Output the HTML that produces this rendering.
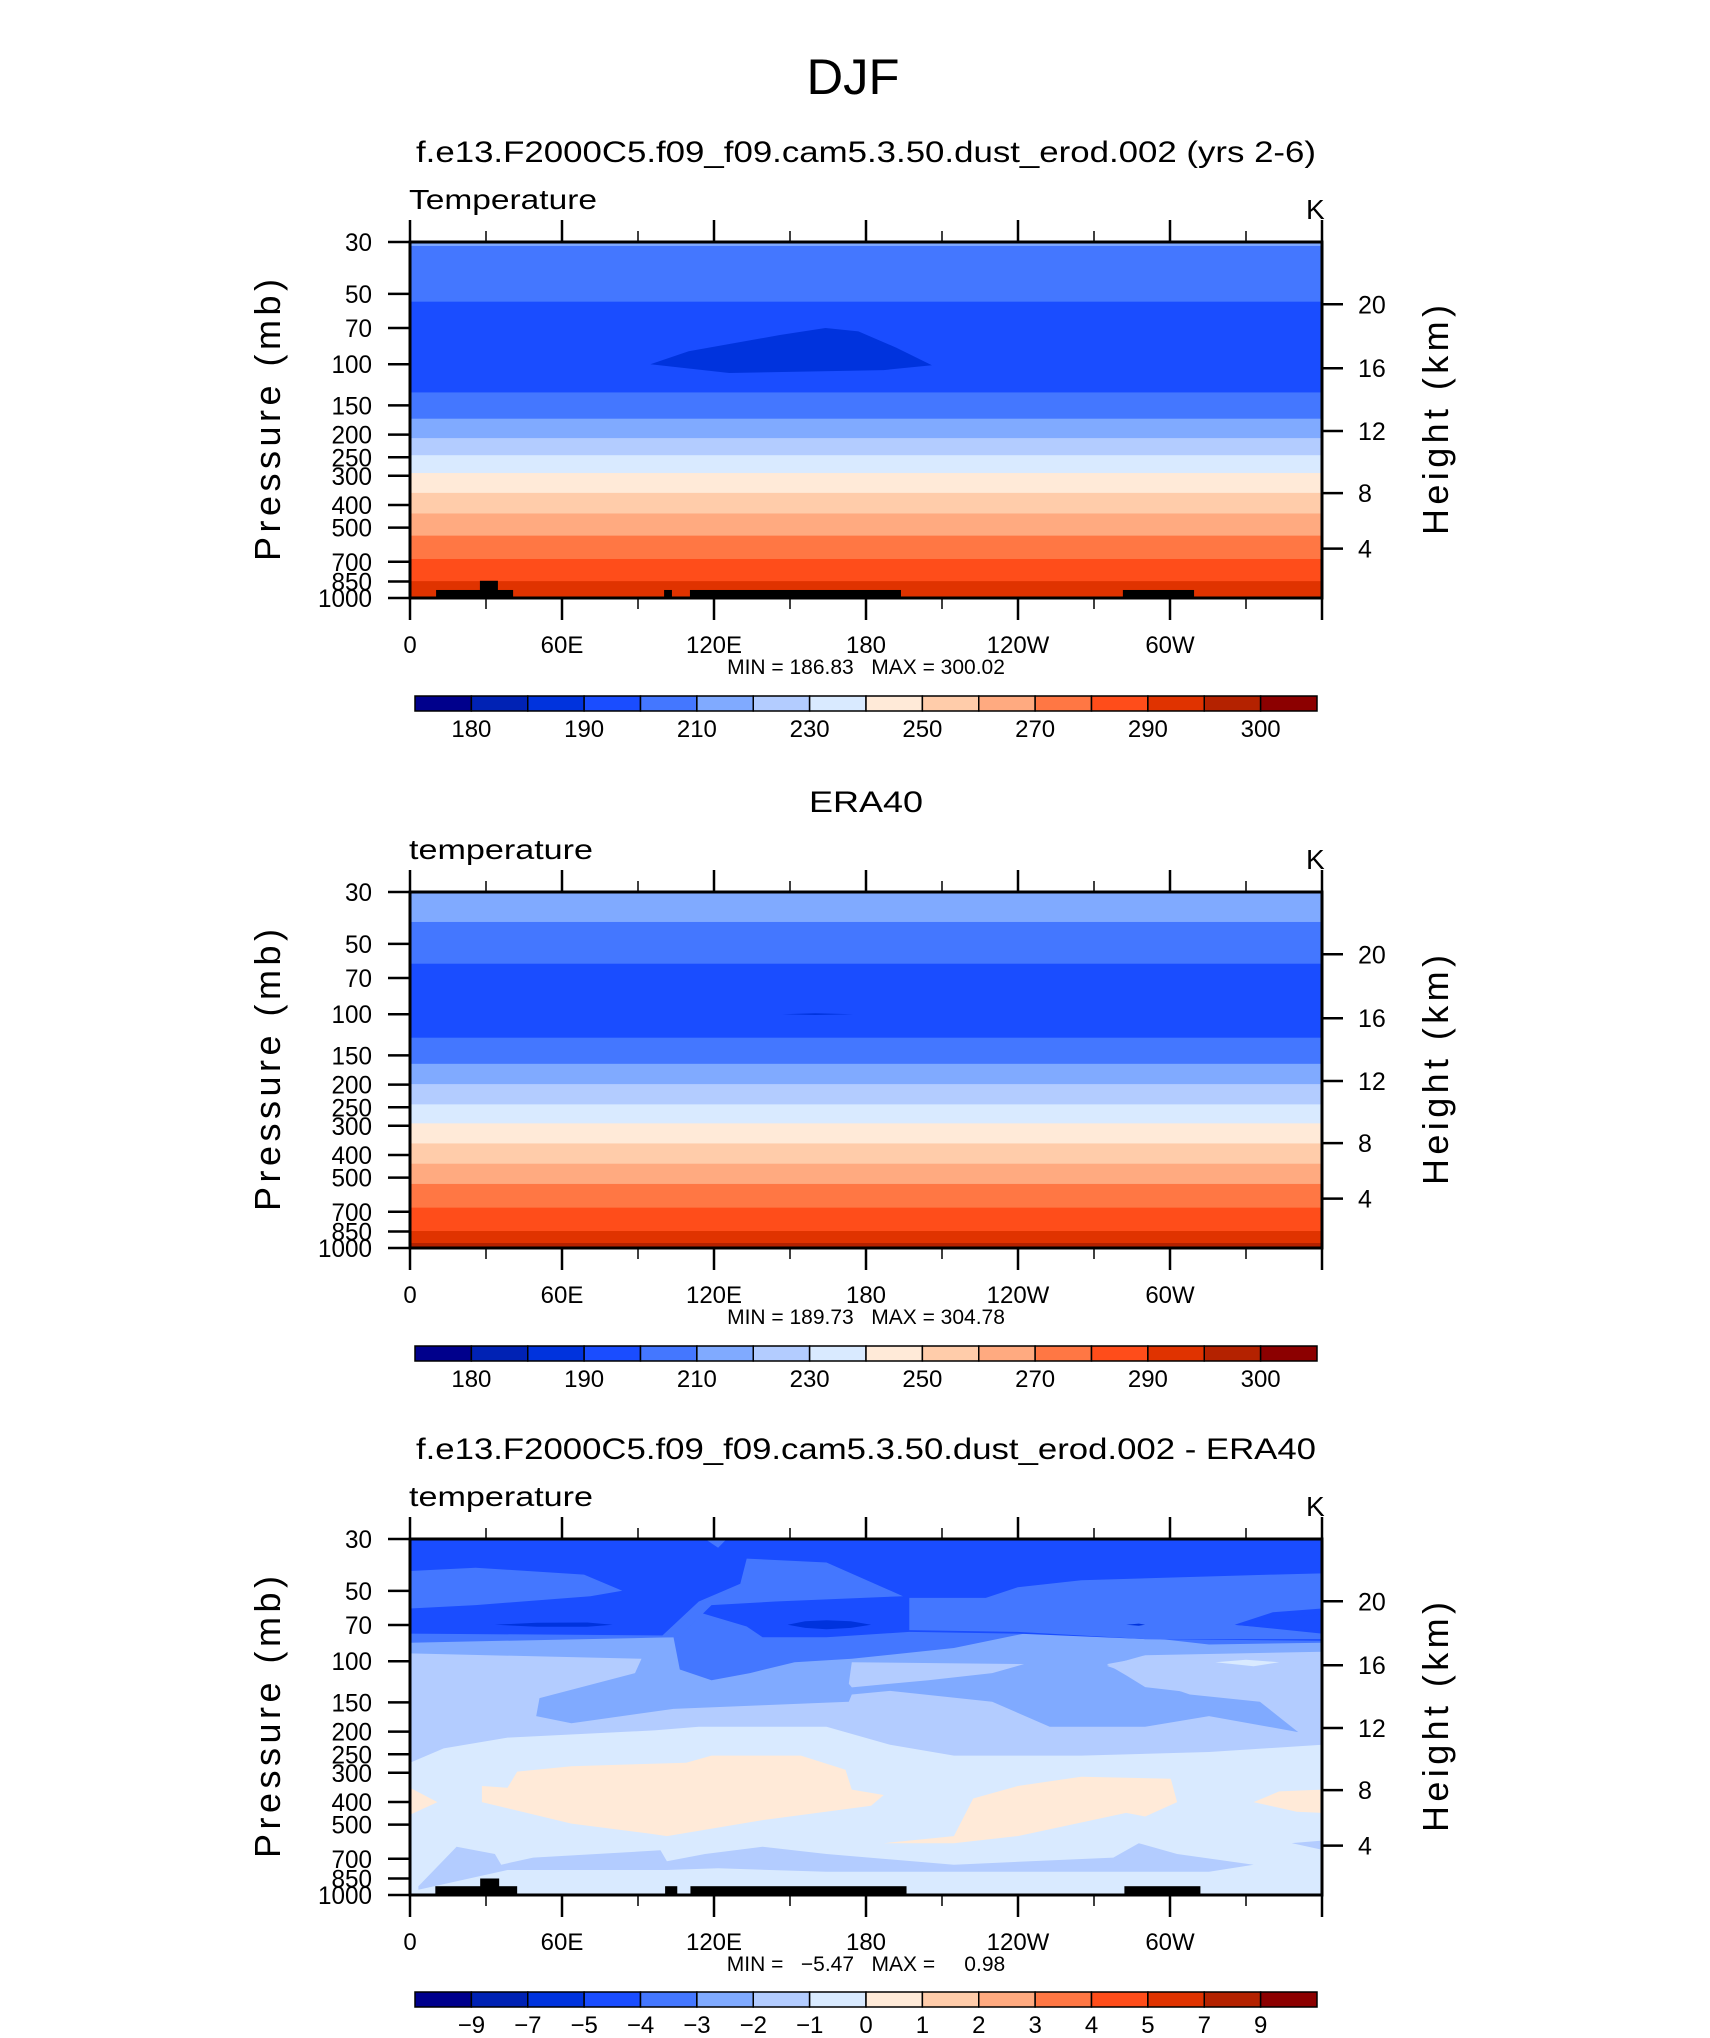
<!DOCTYPE html>
<html><head><meta charset="utf-8"><style>
html,body{margin:0;padding:0;background:#fff;}
svg{display:block;font-family:"Liberation Sans",sans-serif;}
</style></head><body>
<svg id="fig" xmlns="http://www.w3.org/2000/svg" width="1710" height="2038" viewBox="0 0 1710 2038">
<text x="853" y="94" font-size="50" text-anchor="middle" textLength="93" lengthAdjust="spacingAndGlyphs" fill="#000">DJF</text>
</svg>
<script>
// ---------- data ----------
const palette = ["#00008C","#0022B4","#0033DD","#1A4DFF","#4477FF","#80AAFF","#B3CCFF","#D9EAFF","#FFEAD8","#FFCCAA","#FFAA80","#FF7744","#FF4D1A","#E03300","#B42200","#8C0000"];
const pressureTicks = [30,50,70,100,150,200,250,300,400,500,700,850,1000];
const heightTickLabels = [20,16,12,8,4];
const heightTickPressures = [55.4,104,193,356,615];
const lonMajor = [0,60,120,180,240,300,360];
const lonMajorLabels = ["0","60E","120E","180","120W","60W",""];
const lonMinor = [30,90,150,210,270,330];
const cbLabelsTemp = ["180","190","210","230","250","270","290","300"];
const cbLabelIdxTemp = [1,3,5,7,9,11,13,15];
const cbLabelsDiff = ["\u22129","\u22127","\u22125","\u22124","\u22123","\u22122","\u22121","0","1","2","3","4","5","7","9"];
const cbLabelIdxDiff = [1,2,3,4,5,6,7,8,9,10,11,12,13,14,15];

// panel 1 bands: boundary pressures (top->bottom) and colour index of each band
const p1Bounds = [30,31.2,54,132,171,207,245,292,355,435,541,681,847,1000];
const p1Colors = [5,4,3,4,5,6,7,8,9,10,11,12,13];
const p1Blob = [[94.9,100],[110,88],[146,75],[164,70],[177,72.4],[192,85],[206,101],[187,106],[126,109]];
// panel 2 bands
const p2Bounds = [30,40.3,60.8,126,163,199,243,293,357,436,532,672,846,952,1000];
const p2Colors = [5,4,3,4,5,6,7,8,9,10,11,12,13,14];
const p2Blob = [[147,100],[160,99],[175,100],[160,100.8]];
// terrain mask: [lonStart, lonEnd, topPressure]
const terrain = [[10.3,40.7,924],[27.6,34.7,844],[100.3,103.4,924],[110.5,193.8,924],[281.4,309.5,924]];
const terrain3 = [[10,42.3,917],[27.7,35.2,850],[100.7,105.5,917],[110.7,196,917],[282,312,917]];

// panel 3 (difference) contour regions, [lon, pressure]
const d7Bound = [[0,271.6],[13.3,236],[38.5,212.2],[96.4,197.6],[114,190.8],[164.4,190.8],[189.5,227.8],[214.7,253.3],[265,253.3],[315.4,244.5],[360,227.8]];
const d6Bound = [[0,92.6],[91.4,97.6],[88.8,112.4],[51.1,143.8],[49.8,171.6],[63.7,184.2],[104,159.9],[139.2,154.3],[173.2,149],[174.4,138.8],[189.5,134],[229.8,149],[252.5,190.8],[290.2,190.8],[315.4,171.6],[350.6,201],[335.5,149],[307.8,138.8],[275.1,104.7],[290.2,94.2],[360,91]];
const d5Bound = [[0,83.3],[104,79],[106.5,108.5],[119,120.6],[134.2,112.4],[151.8,101],[174.4,97.6],[214.7,87.8],[242.4,76.2],[290.2,79],[315.4,84.8],[360,83.3]];
const d4Bound = [[0,76.2],[104,77.6],[106.5,68.6],[114,61.7],[132.9,71],[139.2,79],[164.4,79],[197.1,74.9],[239.9,76.2],[290.2,80.4],[360,81.8]];
const d5PatchLeft = [[0,41.1],[25.9,39.8],[68.7,42.6],[83.8,49.9],[71.2,52.7],[25.9,57.5],[0,59.5]];
const d5PatchMid = [[132.9,36.4],[164.4,37.8],[194.6,52.7],[144.2,55.5],[119,57.5],[109,73.6],[106.5,79],[98.9,79],[114,55.5],[130.4,46.6]];
const d5PatchRight = [[197.1,53.6],[227.3,53.6],[239.9,48.3],[265,45],[340.6,42.6],[360,42.1],[360,59.5],[340.6,61.7],[325.5,69.8],[360,76.2],[360,80.4],[290.2,80.4],[239.9,74.9],[197.1,73.6]];
const d5PatchTop = [[116.5,30],[125,30],[121.6,32.7]];
const d3BlobMid = [[149,69.8],[156,67.5],[164.4,66.8],[174,67.5],[182,69.8],[174,72],[164.4,73],[156,72]];
const d3BlobLeft = [[33.5,69.8],[50,68.5],[70,68.3],[80,69.8],[70,71.2],[50,71.2]];
const d3BlobRight = [[282.7,69.8],[287.7,69],[290.2,69.8],[287.7,70.5]];
const d4BlobRight = [[326,70],[340,66],[360,63],[360,74],[340,72]];
const d7PatchMid = [[174.4,101],[242.4,102.9],[229.8,112.4],[204.6,120.6],[174.4,129.4],[173.2,124.9]];
const d7PatchRight = [[275.1,102.9],[290.2,96],[340.6,96],[350,101],[335.5,120],[315.4,138.8],[290.2,129],[282.7,115]];
const d8BlobRight = [[317.9,101],[330,98.5],[343.1,101],[333,105]];
const d7Lower = [[3.3,917],[18.4,622],[33.5,667.6],[36,742],[48.6,691.6],[98.9,644],[101.4,717],[116.5,667.6],[139.2,622],[164.4,667.6],[214.7,742],[277.6,691.6],[287.7,600.4],[302.8,667.6],[333,742],[315.4,796],[239.9,796],[164.4,796],[121.6,769],[101.4,782],[38.5,782],[3.3,950]];
const d7Right4km = [[348,600],[360,585],[360,640]];
const d9FarLeft = [[0,347.9],[10.8,400.6],[0,453.4]];
const d9Big = [[28.4,341.8],[38.5,347.9],[42.3,296.7],[63.7,281.4],[109,271.6],[119,253.3],[154.3,253.3],[171.9,291.5],[174.4,354.1],[187,373.3],[182,415],[139.2,478.1],[101.4,560],[93.9,545],[63.7,495],[28.4,400.6]];
const d9Right = [[187,600.4],[214.7,560],[222.3,386.7],[239.9,341.8],[265,312],[300.3,318],[302.8,400.6],[290.2,461.5],[282.7,445.4],[239.9,560],[214.7,600.4]];
const d9FarRight = [[333,400.6],[343.1,360.3],[360,354.1],[360,445.4],[350,440]];

// ---------- layout ----------
const NS = "http://www.w3.org/2000/svg";
const svg = document.getElementById("fig");
const PL = 410, PR = 1322, PW = PR - PL, PH = 356;
const panels = [
  {top:242, title:"f.e13.F2000C5.f09_f09.cam5.3.50.dust_erod.002 (yrs 2-6)", titleW:900, sub:"Temperature", subW:188, mm:"MIN = 186.83   MAX = 300.02", cbTop:696, kind:"p1"},
  {top:892, title:"ERA40", titleW:114, sub:"temperature", subW:184, mm:"MIN = 189.73   MAX = 304.78", cbTop:1346, kind:"p2"},
  {top:1539, title:"f.e13.F2000C5.f09_f09.cam5.3.50.dust_erod.002 - ERA40", titleW:900, sub:"temperature", subW:184, mm:"MIN =   \u22125.47   MAX =     0.98", cbTop:1992, kind:"p3"}
];
function mk(tag, attrs, parent){const e=document.createElementNS(NS,tag);for(const k in attrs)e.setAttribute(k,attrs[k]);(parent||svg).appendChild(e);return e;}
function xOf(lon){return PL + lon/360*PW;}
function yOf(top,p){return top + PH*Math.log(p/30)/Math.log(1000/30);}
function polyPath(top, pts){return "M"+pts.map(q=>xOf(q[0]).toFixed(1)+","+yOf(top,q[1]).toFixed(1)).join("L")+"Z";}
function fromTop(top, bound){
  const pts=[[0,30]].concat(bound).concat([[360,30]]);
  return polyPath(top, pts);
}

panels.forEach((P, pi) => {
  const g = mk("g", {});
  
  
  const top = P.top;
  const clipId = "clip"+pi;
  const cp = mk("clipPath",{id:clipId}, g);
  mk("rect",{x:PL,y:top,width:PW,height:PH},cp);
  const field = mk("g",{"clip-path":"url(#"+clipId+")"},g);
  
  
  function fill(d, ci, name){
    const e = mk("path",{d:d, fill:palette[ci], "fill-rule":"evenodd"}, field);
    
    
  }
  if (P.kind==="p1" || P.kind==="p2"){
    const bounds = P.kind==="p1"?p1Bounds:p2Bounds;
    const cols = P.kind==="p1"?p1Colors:p2Colors;
    for(let i=0;i<cols.length;i++){
      const y0=yOf(top,bounds[i]), y1=yOf(top,bounds[i+1]);
      const r = mk("rect",{x:PL,y:y0,width:PW,height:(y1-y0)+0.6,fill:palette[cols[i]]},field);
      
      
    }
    fill(polyPath(top, P.kind==="p1"?p1Blob:p2Blob), 2, "cold-core");
  } else {
    const bg = mk("rect",{x:PL,y:top,width:PW,height:PH,fill:palette[7]},field);
    
    
    fill(fromTop(top,d7Bound),6,"contour-m2");
    fill(fromTop(top,d6Bound),5,"contour-m3");
    fill(fromTop(top,d5Bound),4,"contour-m4");
    fill(fromTop(top,d4Bound),3,"contour-m5");
    [d5PatchLeft,d5PatchMid,d5PatchRight,d5PatchTop].forEach(a=>fill(polyPath(top,a),4,"contour-m4-patch"));
    fill(polyPath(top,d4BlobRight),3,"contour-m5-patch");
    [d3BlobMid,d3BlobLeft,d3BlobRight].forEach(a=>fill(polyPath(top,a),2,"contour-m7-patch"));
    [d7PatchMid,d7PatchRight,d7Lower,d7Right4km].forEach(a=>fill(polyPath(top,a),6,"contour-m2-patch"));
    fill(polyPath(top,d8BlobRight),7,"contour-m1-patch");
    [d9FarLeft,d9Big,d9Right,d9FarRight].forEach(a=>fill(polyPath(top,a),8,"contour-p1-patch"));
  }
  if (P.kind!=="p2"){
    const T = P.kind==="p1"?terrain:terrain3;
    T.forEach(t=>{
      const y0=yOf(top,t[2]);
      const r=mk("rect",{x:xOf(t[0]),y:y0,width:xOf(t[1])-xOf(t[0]),height:top+PH-y0,fill:"#000"},field);
      
      
    });
  }
  // frame
  const fr = mk("rect",{x:PL,y:top,width:PW,height:PH,fill:"none",stroke:"#000","stroke-width":3},g);
  
  
  // lon ticks
  lonMajor.forEach((lon,i)=>{
    const x=xOf(lon);
    mk("line",{x1:x,y1:top-22,x2:x,y2:top,stroke:"#000","stroke-width":2.5},g);
    mk("line",{x1:x,y1:top+PH,x2:x,y2:top+PH+22,stroke:"#000","stroke-width":2.5},g);
    if(lonMajorLabels[i]){
      const t=mk("text",{x:x,y:top+PH+55,"font-size":24,"text-anchor":"middle"},g);
      t.textContent=lonMajorLabels[i];
      
      
    }
  });
  lonMinor.forEach(lon=>{
    const x=xOf(lon);
    mk("line",{x1:x,y1:top-11,x2:x,y2:top,stroke:"#000","stroke-width":1.5},g);
    mk("line",{x1:x,y1:top+PH,x2:x,y2:top+PH+11,stroke:"#000","stroke-width":1.5},g);
  });
  // pressure ticks
  pressureTicks.forEach(p=>{
    const y=yOf(top,p);
    mk("line",{x1:PL-22,y1:y,x2:PL,y2:y,stroke:"#000","stroke-width":2.5},g);
    const t=mk("text",{x:372,y:y+9,"font-size":25,"text-anchor":"end",textLength:String(p).length*13.5,lengthAdjust:"spacingAndGlyphs"},g);
    t.textContent=p;
    
    
  });
  heightTickPressures.forEach((p,i)=>{
    const y=yOf(top,p);
    mk("line",{x1:PR,y1:y,x2:PR+21,y2:y,stroke:"#000","stroke-width":2.5},g);
    const t=mk("text",{x:1358,y:y+9,"font-size":25},g);
    t.textContent=heightTickLabels[i];
    
    
  });
  // axis titles
  const yt=mk("text",{x:0,y:0,"font-size":36,"text-anchor":"middle",transform:"translate(280,"+(top+178)+") rotate(-90)",textLength:282,lengthAdjust:"spacing"},g);
  yt.textContent="Pressure (mb)";
  
  
  const ht=mk("text",{x:0,y:0,"font-size":36,"text-anchor":"middle",transform:"translate(1448,"+(top+178)+") rotate(-90)",textLength:230,lengthAdjust:"spacing"},g);
  ht.textContent="Height (km)";
  
  
  // titles
  const tt=mk("text",{x:866,y:top-80,"font-size":30,"text-anchor":"middle",textLength:P.titleW,lengthAdjust:"spacingAndGlyphs"},g);
  tt.textContent=P.title;
  
  
  const st=mk("text",{x:409,y:top-33,"font-size":28,textLength:P.subW,lengthAdjust:"spacingAndGlyphs"},g);
  st.textContent=P.sub;
  
  
  const kt=mk("text",{x:1306,y:top-23,"font-size":28},g);
  kt.textContent="K";
  
  
  const mm=mk("text",{x:866,y:top+PH+76,"font-size":21,"text-anchor":"middle","xml:space":"preserve",style:"white-space:pre"},g);
  mm.textContent=P.mm;
  
  
  // colorbar
  const cb = mk("g",{},g);
  
  
  const cx0=415, cw=(1317-415)/16, ch=15;
  palette.forEach((c,i)=>{
    const r=mk("rect",{x:cx0+i*cw,y:P.cbTop,width:cw,height:ch,fill:c,stroke:"#000","stroke-width":1.5},cb);
    
    
  });
  const labs = P.kind==="p3"?cbLabelsDiff:cbLabelsTemp;
  const idx = P.kind==="p3"?cbLabelIdxDiff:cbLabelIdxTemp;
  labs.forEach((l,i)=>{
    const t=mk("text",{x:cx0+idx[i]*cw,y:P.cbTop+41,"font-size":24,"text-anchor":"middle"},cb);
    t.textContent=l;
    
    
  });
});
</script>
</body></html>
